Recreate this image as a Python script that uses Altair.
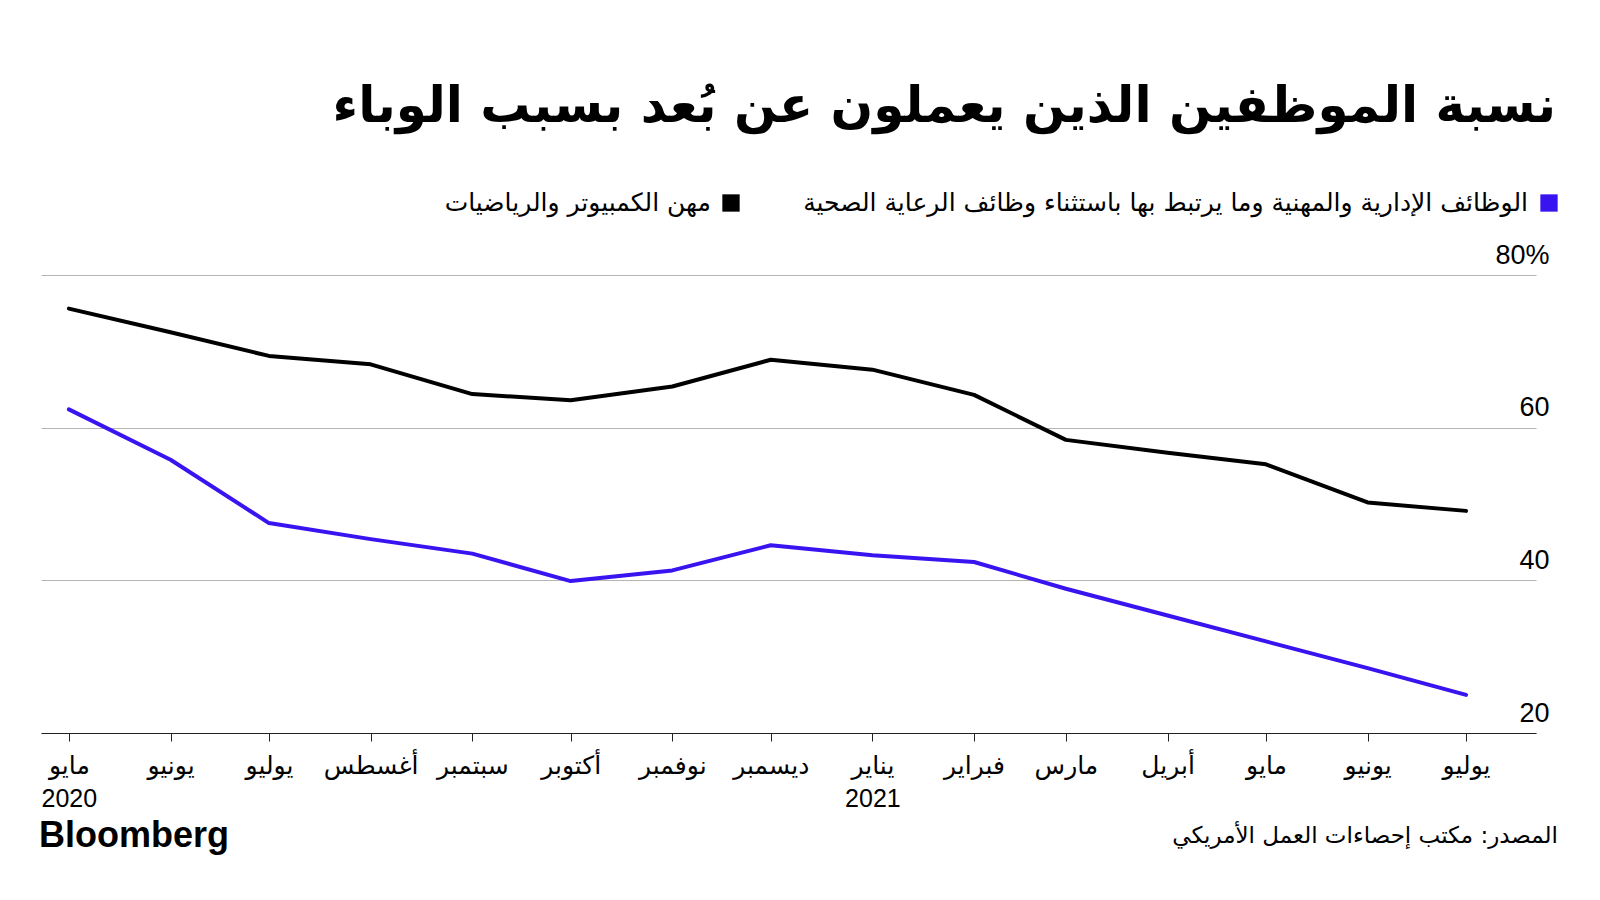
import altair as alt
import pandas as pd

# ---- data -------------------------------------------------------------
months = ["2020-05-01", "2020-06-01", "2020-07-01", "2020-08-01", "2020-09-01",
          "2020-10-01", "2020-11-01", "2020-12-01", "2021-01-01", "2021-02-01",
          "2021-03-01", "2021-04-01", "2021-05-01", "2021-06-01", "2021-07-01"]
computer_math = [75.6, 72.5, 69.4, 68.3, 64.4, 63.6, 65.4, 68.9, 67.6, 64.3,
                 58.4, 56.7, 55.2, 50.2, 49.1]
business_prof = [62.4, 55.8, 47.5, 45.4, 43.5, 39.9, 41.3, 44.6, 43.3, 42.4,
                 38.9, 35.4, 32.0, 28.5, 25.0]
series_names = ["مهن الكمبيوتر والرياضيات",
                "الوظائف الإدارية والمهنية وما يرتبط بها باستثناء وظائف الرعاية الصحية"]
series_colors = ["#000000", "#3a14f0"]
# Arabic month names indexed by month number 0..11
month_names_ar = ["يناير", "فبراير", "مارس", "أبريل", "مايو", "يونيو",
                  "يوليو", "أغسطس", "سبتمبر", "أكتوبر", "نوفمبر", "ديسمبر"]
y_ticks = [20, 40, 60, 80]
title_text = "نسبة الموظفين الذين يعملون عن بُعد بسبب الوباء"
source_text = "المصدر: مكتب إحصاءات العمل الأمريكي"
brand_text = "Bloomberg"

AR_FONT = "DejaVu Sans"
MIX_FONT = "Liberation Sans, DejaVu Sans"

W, H = 1495, 458

rows = []
for name, vals in zip(series_names, [computer_math, business_prof]):
    for d, v in zip(months, vals):
        rows.append({"date": d, "value": v, "series": name})
df = pd.DataFrame(rows)

def ms(s):
    return int(pd.Timestamp(s, tz="UTC").value // 1_000_000)

tick_values = [ms(m) for m in months]
x_domain = [ms("2020-04-22T12:00"), ms("2021-07-22T08:00")]

names_js = "[" + ",".join("'" + n + "'" for n in month_names_ar) + "]"
label_expr = (
    f"[{names_js}[utcmonth(datum.value)], "
    "(utcmonth(datum.value) == 0 || (utcmonth(datum.value) == 4 && utcyear(datum.value) == 2020))"
    " ? '' + utcyear(datum.value) : '']"
)

lines = alt.Chart(df).mark_line(strokeWidth=4, strokeJoin="round", strokeCap="round").encode(
    x=alt.X("date:T",
            scale=alt.Scale(type="utc", domain=x_domain),
            axis=alt.Axis(title=None, values=tick_values, labelExpr=label_expr,
                          grid=False, domain=True, domainColor="#222222", domainWidth=1.2,
                          ticks=True, tickColor="#222222", tickSize=8, tickWidth=1,
                          labelFont=MIX_FONT, labelFontSize=25, labelColor="#000000",
                          labelPadding=12, labelLineHeight=33, labelAlign="center",
                          labelFlush=False, labelOverlap=False)),
    y=alt.Y("value:Q",
            scale=alt.Scale(domain=[20, 80], nice=False, zero=False),
            axis=alt.Axis(title=None, orient="right", values=y_ticks,
                          labelExpr="datum.value == 80 ? datum.value + '%' : '' + datum.value",
                          grid=True, gridColor="#b5b5b5", gridWidth=1.2,
                          domain=False, ticks=False,
                          labelFont="Liberation Sans", labelFontSize=27, labelColor="#000000",
                          labelAlign="right", labelBaseline="alphabetic",
                          labelPadding=13, labelOffset=-12)),
    color=alt.Color("series:N", scale=alt.Scale(domain=series_names, range=series_colors),
                    legend=None),
    detail="series:N",
)

def text_layer(txt, x, y, size, align="right", weight="normal", font=AR_FONT):
    return alt.Chart(pd.DataFrame({"t": [txt]})).mark_text(
        align=align, baseline="middle", font=font, fontSize=size, fontWeight=weight,
        color="#000000").encode(x=alt.value(x), y=alt.value(y), text="t:N")

title = text_layer(title_text, 1515, -168, 50, weight="bold")

legend_df = pd.DataFrame({"name": series_names, "color": series_colors,
                          "sx": [690, 1508], "tx": [670, 1487]})
legend_sq = alt.Chart(legend_df).mark_square(size=300, opacity=1, filled=True).encode(
    x=alt.X("sx:Q", scale=None), y=alt.value(-72),
    color=alt.Color("color:N", scale=None))
legend_tx = alt.Chart(legend_df).mark_text(
    align="right", baseline="middle", font=AR_FONT, fontSize=25, color="#000000").encode(
    x=alt.X("tx:Q", scale=None), y=alt.value(-72), text="name:N")

brand = text_layer(brand_text, -2, 561, 36, align="left", weight="bold",
                   font="Liberation Sans, Arial")
source = text_layer(source_text, 1517, 561, 23)

chart = alt.layer(lines, title, legend_sq, legend_tx, brand, source).properties(
    width=W, height=H,
    autosize=alt.AutoSizeParams(type="none"),
    padding={"left": 33, "top": 267, "right": 56, "bottom": 159},
    background="#ffffff",
).configure_view(stroke=None)

chart.save("out.html", embed_options={"renderer": "svg", "actions": False})
